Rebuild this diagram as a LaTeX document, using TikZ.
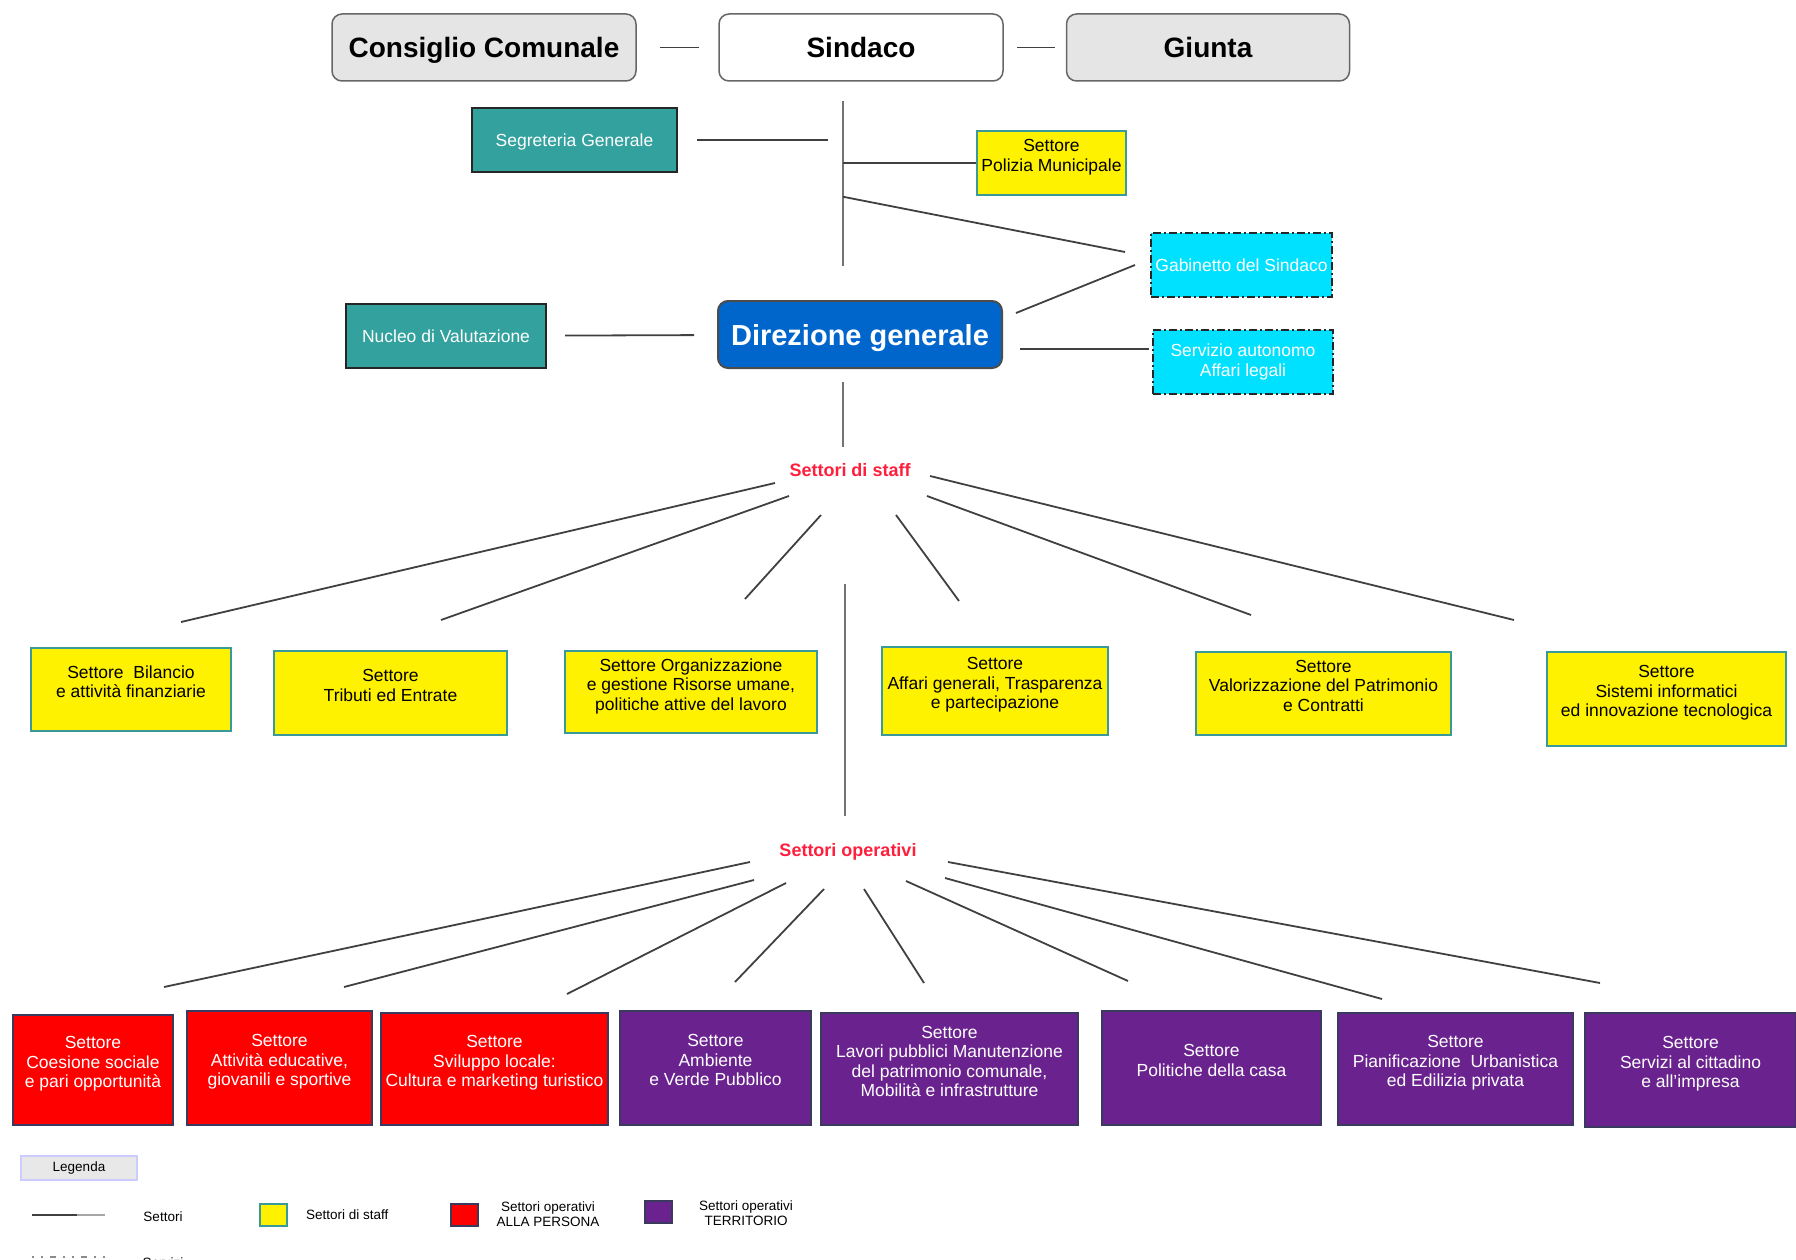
\documentclass[tikz,border=0pt]{standalone}
\usepackage{fontspec}
\setmainfont{Liberation Sans}
\usetikzlibrary{calc}

\definecolor{tealbox}{HTML}{33A19E}
\definecolor{cyanbox}{HTML}{00E1FF}
\definecolor{bluebox}{HTML}{0066CC}
\definecolor{redbox}{HTML}{FF0000}
\definecolor{purplebox}{HTML}{6A238E}
\definecolor{staffred}{HTML}{FF1E3C}
\definecolor{yelborder}{HTML}{3A9A9A}
\definecolor{darkborder}{HTML}{3A3A5E}

% riga vuota in fondo: il testo sale un po' nel riquadro
\newcommand{\boxpad}{\\[-4pt]\mbox{}}

\tikzset{
  base/.style={rectangle,inner sep=0pt,align=center,line width=2pt,
    font=\fontsize{17.5}{19.5}\selectfont},
  organ/.style={base,rounded corners=10pt,draw=black!60,fill=black!10,
    line width=1.5pt,minimum height=67pt,text height=20pt,text depth=0pt,
    font=\fontsize{28}{32}\selectfont\bfseries},
  direz/.style={base,rounded corners=10pt,draw=black!70,fill=bluebox,text=white,
    text height=21pt,text depth=0pt,font=\fontsize{29}{33}\selectfont\bfseries},
  staffbox/.style={base,draw=black!85,fill=tealbox,text=white,minimum height=64pt,
    text height=12.6pt,text depth=0pt},
  settore/.style={base,draw=yelborder,fill=yellow},
  servbox/.style={base,draw=black!85,fill=cyanbox,text=white,minimum height=64pt,
    dash pattern=on 8pt off 3pt on 2pt off 3pt},
  persona/.style={base,draw=darkborder,fill=redbox,text=white},
  territorio/.style={base,draw=darkborder,fill=purplebox,text=white},
  grouplbl/.style={inner sep=3pt,text=staffred,font=\fontsize{18}{20}\selectfont\bfseries},
  link/.style={line width=1.8pt,draw=black!75},
  trunkline/.style={line width=1.5pt,draw=black!55},
  legtext/.style={inner sep=0pt,align=center,font=\fontsize{13.5}{15.5}\selectfont},
  legkey/.style={rectangle,inner sep=0pt,line width=2pt,minimum width=27pt,minimum height=22pt},
}

\begin{document}
\begin{tikzpicture}[x=1pt,y=-1pt]
\useasboundingbox (0,0) rectangle (1796,1260);

% vertici
\node[organ,minimum width=304pt] (cc) at (484,47.5) {Consiglio Comunale};
\node[organ,fill=white,minimum width=284pt] (sin) at (861,47.5) {Sindaco};
\node[organ,minimum width=283pt] (giu) at (1208,47.5) {Giunta};
\draw[link,shorten <=23pt,shorten >=19pt] (cc) -- (sin);
\draw[link,shorten <=13pt,shorten >=11pt] (sin) -- (giu);

% staff del sindaco
\node[staffbox,minimum width=205pt] (seg) at (574.5,140) {Segreteria Generale};
\node[settore,minimum width=149pt,minimum height=64pt] (pm) at (1051.5,163) {Settore\\Polizia Municipale\boxpad};
\node[servbox,minimum width=181pt] (gab) at (1241.5,265) {Gabinetto del Sindaco};
\node[direz,minimum width=284pt,minimum height=67pt] (dir) at (860,334.5) {Direzione generale};
\node[staffbox,minimum width=200pt] (nuc) at (446,336) {Nucleo di Valutazione};
\node[servbox,minimum width=180pt] (leg) at (1243,362) {Servizio autonomo\\Affari legali};

\coordinate (trunk) at ($(sin.south)+(-18,19)$);
\draw[trunkline] (trunk) -- ($(dir.north)+(-17,-34)$);
\draw[link,shorten >=15pt] ([xshift=19pt]seg.east) -- (seg.east -| trunk);
\draw[link] (pm.west -| trunk) -- (pm.west);
\draw[link] ($(trunk)+(0,96)$) -- ($(gab.west)+(-25,-13)$);
\draw[link] ($(gab.west)+(-15,0)$) -- ($(dir.north east)+(13,13)$);
\draw[link,shorten <=18pt,shorten >=23pt] (nuc) -- (dir);
\draw[link] ($(dir.east)+(17,14.5)$) -- ($(leg.west)+(-3,-13)$);

% settori di staff
\node[grouplbl] (staff) at (850,470) {Settori di staff};
\draw[trunkline] ($(dir.south)+(-17,13)$) -- ($(staff)+(-7,-23)$);

\node[settore,minimum width=200pt,minimum height=83pt] (bil) at (131,689.5) {Settore~ Bilancio\\e attività finanziarie\boxpad};
\node[settore,minimum width=233pt,minimum height=84pt] (trib) at (390.5,693) {Settore\\Tributi ed Entrate\boxpad};
\node[settore,minimum width=252pt,minimum height=82pt] (org) at (691,692) {Settore Organizzazione\\e gestione Risorse umane,\\politiche attive del lavoro\boxpad};
\node[settore,minimum width=226pt,minimum height=88pt] (aff) at (995,691) {Settore\\Affari generali, Trasparenza\\e partecipazione\boxpad};
\node[settore,minimum width=255pt,minimum height=83pt] (val) at (1323.5,693.5) {Settore\\Valorizzazione del Patrimonio\\e Contratti\boxpad};
\node[settore,minimum width=239pt,minimum height=94pt] (sis) at (1666.5,699) {Settore\\Sistemi informatici\\ed innovazione tecnologica\boxpad};

\draw[link] ($(staff)+(-75,13)$) -- ($(bil.north)+(50,-25)$);
\draw[link] ($(staff)+(-61,26)$) -- ($(trib.north)+(50.5,-30)$);
\draw[link] ($(staff)+(-29,45)$) -- ($(org.north)+(54,-51)$);
\draw[link] ($(staff)+(46,45)$) -- ($(aff.north)+(-36,-45)$);
\draw[link] ($(staff)+(77,26)$) -- ($(val.north)+(-72.5,-36)$);
\draw[link] ($(staff)+(80,6)$) -- ($(sis.north)+(-152.5,-31)$);

% settori operativi
\node[grouplbl] (oper) at (848,852) {Settori operativi};
\draw[trunkline] ($(staff)+(-5,114)$) -- ($(oper)+(-3,-36)$);

\node[persona,minimum width=160pt,minimum height=110pt] (coe) at (93,1070) {Settore\\Coesione sociale\\e pari opportunità\boxpad};
\node[persona,minimum width=185pt,minimum height=114pt] (att) at (279.5,1068) {Settore\\Attività educative,\\giovanili e sportive\boxpad};
\node[persona,minimum width=227pt,minimum height=112pt] (svi) at (494.5,1069) {Settore\\Sviluppo locale:\\Cultura e marketing turistico\boxpad};
\node[territorio,minimum width=191pt,minimum height=114pt] (amb) at (715.5,1068) {Settore\\Ambiente\\e Verde Pubblico\boxpad};
\node[territorio,minimum width=257pt,minimum height=112pt] (lav) at (949.5,1069) {Settore\\Lavori pubblici Manutenzione\\del patrimonio comunale,\\Mobilità e infrastrutture\boxpad};
\node[territorio,minimum width=219pt,minimum height=114pt] (casa) at (1211.5,1068) {Settore\\Politiche della casa\boxpad};
\node[territorio,minimum width=235pt,minimum height=112pt] (pia) at (1455.5,1069) {Settore\\Pianificazione~ Urbanistica\\ed Edilizia privata\boxpad};
\node[territorio,minimum width=211pt,minimum height=114pt] (cit) at (1690.5,1070) {Settore\\Servizi al cittadino\\e all'impresa\boxpad};

\draw[link] ($(oper)+(-98,10)$) -- ($(coe.north)+(71,-27)$);
\draw[link] ($(oper)+(-94,28)$) -- ($(att.north)+(64.5,-23)$);
\draw[link] ($(oper)+(-62,31)$) -- ($(svi.north)+(72.5,-18)$);
\draw[link] ($(oper)+(-24,37)$) -- ($(amb.north)+(19.5,-28)$);
\draw[link] ($(oper)+(16,37)$) -- ($(lav.north)+(-25.5,-29)$);
\draw[link] ($(oper)+(58,29)$) -- ($(casa.north)+(-83.5,-29)$);
\draw[link] ($(oper)+(97,26)$) -- ($(pia.north)+(-73.5,-13)$);
\draw[link] ($(oper)+(100,10)$) -- ($(cit.north)+(-90.5,-29)$);

% legenda
\node[legtext,draw=blue!20,fill=black!9,line width=1.5pt,minimum width=116pt,minimum height=24pt] (lgd) at (79,1168) {Legenda};
\coordinate (solidA) at (32,1215);
\coordinate (solidB) at (105,1215);
\draw[line width=2.5pt,black!75] (solidA) -- ($(solidA)!0.62!(solidB)$);
\draw[line width=2.5pt,black!35] ($(solidA)!0.62!(solidB)$) -- (solidB);
\node[legtext] (lsett) at (163,1217) {Settori};
\node[legkey,fill=yellow,draw=yelborder] (kstaff) at (273.5,1215) {};
\node[legtext,anchor=west] (lstaff) at (306,1215) {Settori di staff};
\node[legkey,fill=redbox,draw=darkborder] (kpers) at (464,1215) {};
\node[legtext] (lpers) at (548,1214) {Settori operativi\\ALLA PERSONA};
\node[legkey,fill=purplebox,draw=darkborder] (kterr) at (658.5,1212) {};
\node[legtext] (lterr) at (746,1213) {Settori operativi\\TERRITORIO};
\coordinate (dotA) at (32,1257);
\coordinate (dotB) at (105,1257);
\draw[line width=2.5pt,black!45,dash pattern=on 2pt off 7pt on 2pt off 7pt on 6pt off 7pt] (dotA) -- (dotB);
\node[legtext] (lserv) at (163,1263) {Servizi};
\end{tikzpicture}
\end{document}
